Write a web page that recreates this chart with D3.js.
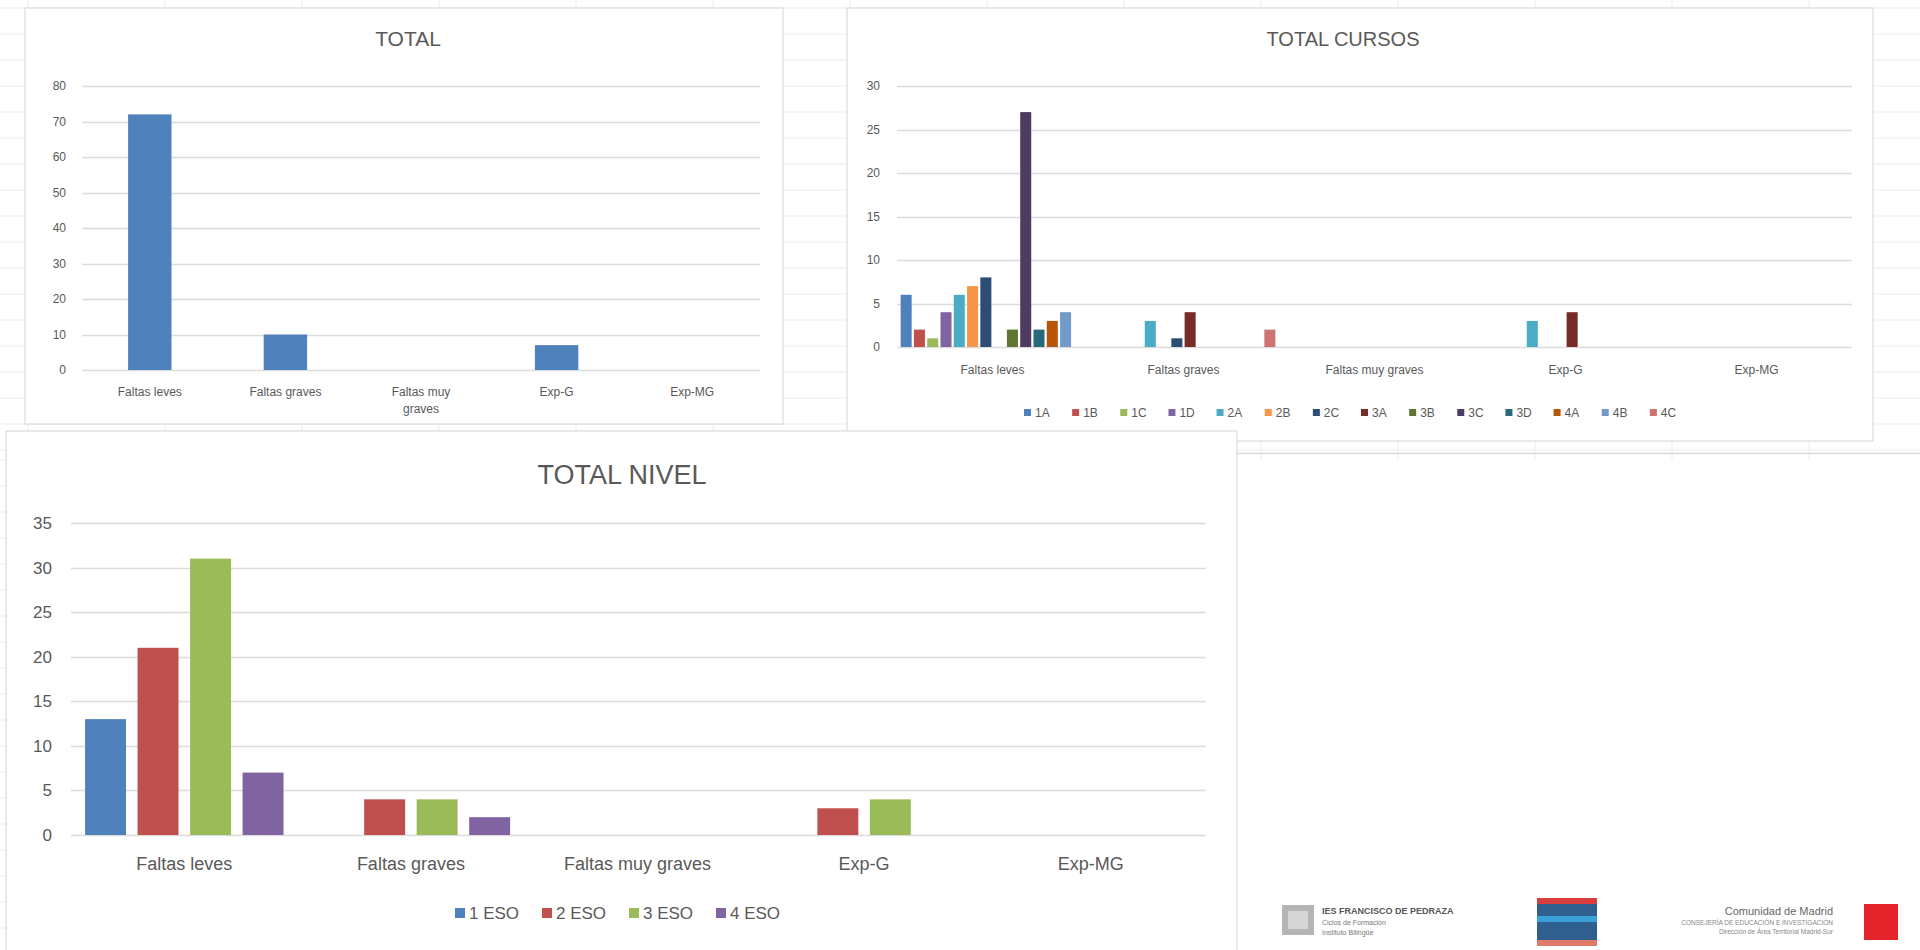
<!DOCTYPE html>
<html><head><meta charset="utf-8">
<script src="https://cdn.jsdelivr.net/npm/d3@7"></script>
<style>
html,body{margin:0;padding:0;background:#fff;}
svg{display:block;font-family:"Liberation Sans Narrow","Liberation Sans",Arial,sans-serif;}
</style></head>
<body>
<svg id="c" width="1920" height="950"></svg>
<script>
// ---------- DATA ----------
const categories = ["Faltas leves", "Faltas graves", "Faltas muy graves", "Exp-G", "Exp-MG"];

// TOTAL
const totalValues = [72, 10, 0, 7, 0];
const totalTicks = [0, 10, 20, 30, 40, 50, 60, 70, 80];

// TOTAL CURSOS
const cursos = ["1A", "1B", "1C", "1D", "2A", "2B", "2C", "3A", "3B", "3C", "3D", "4A", "4B", "4C"];
const cursosValues = [
  [6, 0, 0, 0, 0],   // 1A
  [2, 0, 0, 0, 0],   // 1B
  [1, 0, 0, 0, 0],   // 1C
  [4, 0, 0, 0, 0],   // 1D
  [6, 3, 0, 3, 0],   // 2A
  [7, 0, 0, 0, 0],   // 2B
  [8, 1, 0, 0, 0],   // 2C
  [0, 4, 0, 4, 0],   // 3A
  [2, 0, 0, 0, 0],   // 3B
  [27, 0, 0, 0, 0],  // 3C
  [2, 0, 0, 0, 0],   // 3D
  [3, 0, 0, 0, 0],   // 4A
  [4, 0, 0, 0, 0],   // 4B
  [0, 2, 0, 0, 0]    // 4C
];
const cursosTicks = [0, 5, 10, 15, 20, 25, 30];
const cursosColors = ["#4F81BD", "#C0504D", "#9BBB59", "#8064A2", "#4BACC6", "#F79646", "#2C4D75",
                      "#772C2A", "#5F7530", "#4D3B62", "#276A7C", "#B65708", "#729ACA", "#CD7371"];

// TOTAL NIVEL
const niveles = ["1 ESO", "2 ESO", "3 ESO", "4 ESO"];
const nivelValues = [
  [13, 0, 0, 0, 0],  // 1 ESO
  [21, 4, 0, 3, 0],  // 2 ESO
  [31, 4, 0, 4, 0],  // 3 ESO
  [7, 2, 0, 0, 0]    // 4 ESO
];
const nivelTicks = [0, 5, 10, 15, 20, 25, 30, 35];
const nivelColors = ["#4F81BD", "#C0504D", "#9BBB59", "#8064A2"];

// ---------- DRAW ----------
const svg = d3.select("#c");
const TXT = "#595959", GRID = "#dcdcdc";

// spreadsheet-like background (only where cells show between the charts)
const bg = svg.append("g");
d3.range(8, 460, 26).forEach(y => bg.append("line").attr("x1", 0).attr("x2", 1920).attr("y1", y).attr("y2", y)
  .attr("stroke", "#ececec").attr("stroke-width", 1));
d3.range(460, 950, 26).forEach(y => bg.append("line").attr("x1", 0).attr("x2", 30).attr("y1", y).attr("y2", y)
  .attr("stroke", "#ececec").attr("stroke-width", 1));
d3.range(28, 1920, 137).forEach(x => bg.append("line").attr("x1", x).attr("x2", x).attr("y1", 0).attr("y2", 460)
  .attr("stroke", "#ececec").attr("stroke-width", 1));
bg.append("line").attr("x1", 1237).attr("x2", 1920).attr("y1", 453.5).attr("y2", 453.5)
  .attr("stroke", "#d8d8d8").attr("stroke-width", 1.5);

function panel(x, y, w, h) {
  svg.append("rect").attr("x", x).attr("y", y).attr("width", w).attr("height", h)
    .attr("fill", "#fff").attr("stroke", "#d4d4d4").attr("stroke-width", 1);
}

function yAxis(g, y, ticks, x1, x2, labelX, fs) {
  g.append("g").selectAll("line").data(ticks).join("line")
    .attr("x1", x1).attr("x2", x2).attr("y1", d => Math.round(y(d)) + 0.5).attr("y2", d => Math.round(y(d)) + 0.5)
    .attr("stroke", GRID).attr("stroke-width", 1.5);
  g.append("g").selectAll("text").data(ticks).join("text")
    .attr("x", labelX).attr("y", d => y(d)).attr("dy", "0.35em").attr("text-anchor", "end")
    .attr("fill", TXT).attr("font-size", fs).text(d => d);
}

// ===== Panel TOTAL =====
panel(25, 8, 758, 416);
{
  const g = svg.append("g");
  const x = d3.scaleBand().domain(categories).range([82, 760]).paddingInner(0.68).paddingOuter(0.34);
  const y = d3.scaleLinear().domain([0, 80]).range([370, 86]);
  yAxis(g, y, totalTicks, 82, 760, 66, 12);
  g.append("g").selectAll("rect").data(categories).join("rect")
    .attr("x", d => x(d)).attr("width", x.bandwidth())
    .attr("y", (d, i) => y(totalValues[i])).attr("height", (d, i) => y(0) - y(totalValues[i]))
    .attr("fill", "#4F81BD");
  const labs = g.append("g").selectAll("text").data(categories).join("text")
    .attr("x", d => x(d) + x.bandwidth() / 2).attr("y", 396).attr("text-anchor", "middle")
    .attr("fill", TXT).attr("font-size", 12);
  labs.each(function (d) {
    const t = d3.select(this);
    if (d === "Faltas muy graves") {
      t.append("tspan").attr("x", t.attr("x")).attr("dy", 0).text("Faltas muy");
      t.append("tspan").attr("x", t.attr("x")).attr("dy", 17).text("graves");
    } else t.text(d);
  });
  g.append("text").attr("x", 408).attr("y", 46).attr("text-anchor", "middle")
    .attr("fill", TXT).attr("font-size", 21).text("TOTAL");
}

// ===== Panel TOTAL CURSOS =====
panel(847, 8, 1026, 433);
{
  const g = svg.append("g");
  const x0 = d3.scaleBand().domain(categories).range([897, 1852]);
  const x1 = d3.scaleBand().domain(cursos).range([2.5, x0.bandwidth() - 2.5]).paddingInner(0.17).paddingOuter(0.085);
  const y = d3.scaleLinear().domain([0, 30]).range([347, 86]);
  yAxis(g, y, cursosTicks, 897, 1852, 880, 12);
  cursos.forEach((c, si) => {
    g.append("g").selectAll("rect").data(categories).join("rect")
      .attr("x", d => x0(d) + x1(c)).attr("width", x1.bandwidth())
      .attr("y", (d, i) => y(cursosValues[si][i])).attr("height", (d, i) => y(0) - y(cursosValues[si][i]))
      .attr("fill", cursosColors[si]);
  });
  g.append("g").selectAll("text").data(categories).join("text")
    .attr("x", d => x0(d) + x0.bandwidth() / 2).attr("y", 374).attr("text-anchor", "middle")
    .attr("fill", TXT).attr("font-size", 12).text(d => d);
  // legend
  const lg = g.append("g");
  const lx = d3.scaleBand().domain(cursos).range([1024, 1698]);
  cursos.forEach((c, i) => {
    lg.append("rect").attr("x", lx(c)).attr("y", 409).attr("width", 7).attr("height", 7).attr("fill", cursosColors[i]);
    lg.append("text").attr("x", lx(c) + 11).attr("y", 413).attr("dy", "0.35em")
      .attr("fill", TXT).attr("font-size", 12).text(c);
  });
  g.append("text").attr("x", 1343).attr("y", 46).attr("text-anchor", "middle")
    .attr("fill", TXT).attr("font-size", 20).text("TOTAL CURSOS");
}

// ===== Panel TOTAL NIVEL =====
panel(6, 431, 1231, 530);
{
  const g = svg.append("g");
  const x0 = d3.scaleBand().domain(categories).range([71, 1204]);
  const x1 = d3.scaleBand().domain(niveles).range([0, x0.bandwidth()]).paddingInner(0.22).paddingOuter(0.268);
  const y = d3.scaleLinear().domain([0, 35]).range([835, 523]);
  yAxis(g, y, nivelTicks, 71, 1206, 52, 17);
  niveles.forEach((n, si) => {
    g.append("g").selectAll("rect").data(categories).join("rect")
      .attr("x", d => x0(d) + x1(n)).attr("width", x1.bandwidth())
      .attr("y", (d, i) => y(nivelValues[si][i])).attr("height", (d, i) => y(0) - y(nivelValues[si][i]))
      .attr("fill", nivelColors[si]);
  });
  g.append("g").selectAll("text").data(categories).join("text")
    .attr("x", d => x0(d) + x0.bandwidth() / 2).attr("y", 870).attr("text-anchor", "middle")
    .attr("fill", TXT).attr("font-size", 18).text(d => d);
  const lx = d3.scaleBand().domain(niveles).range([455, 803]);
  niveles.forEach((n, i) => {
    g.append("rect").attr("x", lx(n)).attr("y", 908).attr("width", 10).attr("height", 10).attr("fill", nivelColors[i]);
    g.append("text").attr("x", lx(n) + 14).attr("y", 913).attr("dy", "0.35em")
      .attr("fill", TXT).attr("font-size", 17).text(n);
  });
  g.append("text").attr("x", 622).attr("y", 484).attr("text-anchor", "middle")
    .attr("fill", TXT).attr("font-size", 27).text("TOTAL NIVEL");
}

// ===== Logos strip =====
{
  const g = svg.append("g");
  g.append("rect").attr("x", 1282).attr("y", 905).attr("width", 32).attr("height", 30).attr("fill", "#b5b5b5");
  g.append("rect").attr("x", 1288).attr("y", 911).attr("width", 20).attr("height", 18).attr("fill", "#d6d6d6");
  g.append("text").attr("x", 1322).attr("y", 914).attr("font-size", 9).attr("font-weight", "bold").attr("fill", "#555")
    .text("IES FRANCISCO DE PEDRAZA");
  g.append("text").attr("x", 1322).attr("y", 925).attr("font-size", 7).attr("fill", "#777").text("Ciclos de Formación");
  g.append("text").attr("x", 1322).attr("y", 935).attr("font-size", 7).attr("fill", "#777").text("Instituto Bilingüe");
  g.append("rect").attr("x", 1537).attr("y", 898).attr("width", 60).attr("height", 48).attr("fill", "#2f5f8f");
  g.append("rect").attr("x", 1537).attr("y", 898).attr("width", 60).attr("height", 6).attr("fill", "#d93c3c");
  g.append("rect").attr("x", 1537).attr("y", 916).attr("width", 60).attr("height", 6).attr("fill", "#3aa0d8");
  g.append("rect").attr("x", 1537).attr("y", 940).attr("width", 60).attr("height", 6).attr("fill", "#e07a6a");
  g.append("text").attr("x", 1833).attr("y", 915).attr("text-anchor", "end").attr("font-size", 11).attr("fill", "#666")
    .text("Comunidad de Madrid");
  g.append("text").attr("x", 1833).attr("y", 925).attr("text-anchor", "end").attr("font-size", 6.5).attr("fill", "#888")
    .text("CONSEJERÍA DE EDUCACIÓN E INVESTIGACIÓN");
  g.append("text").attr("x", 1833).attr("y", 934).attr("text-anchor", "end").attr("font-size", 6.5).attr("fill", "#888")
    .text("Dirección de Área Territorial Madrid-Sur");
  g.append("rect").attr("x", 1864).attr("y", 904).attr("width", 34).attr("height", 36).attr("fill", "#e3242b");
}
</script>
</body></html>
